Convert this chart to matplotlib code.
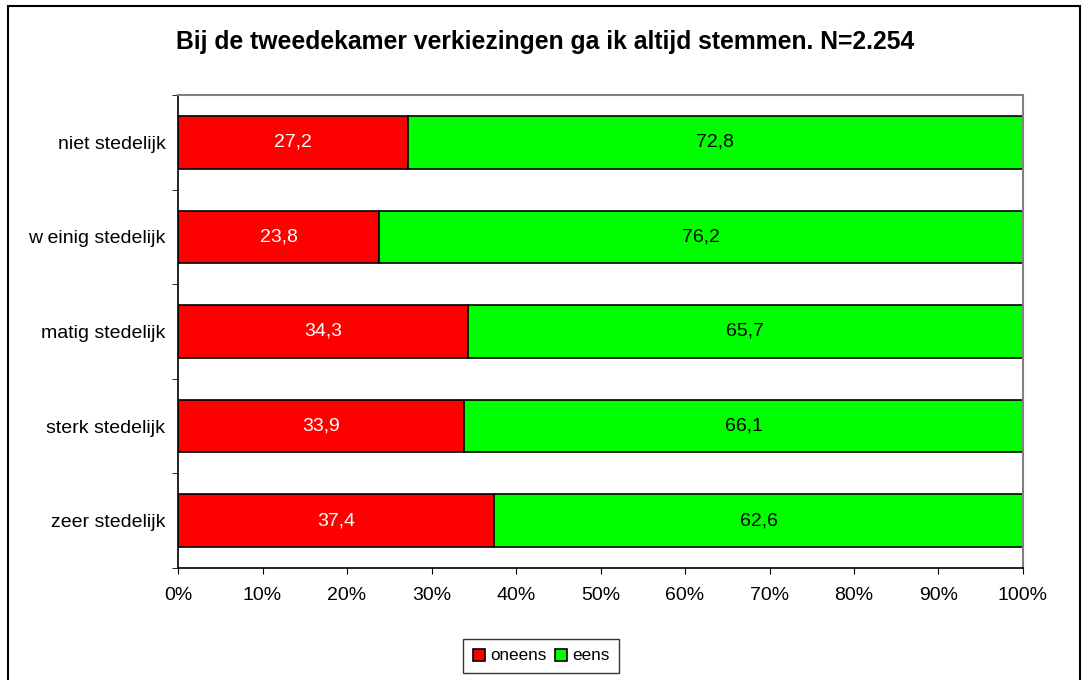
import matplotlib
matplotlib.use("Agg")
import matplotlib.pyplot as plt
from matplotlib.patches import Rectangle
from matplotlib.ticker import FixedLocator

plt.rcParams['font.family'] = ['Liberation Sans', 'DejaVu Sans']

categories = ["zeer stedelijk", "sterk stedelijk", "matig stedelijk", "w einig stedelijk", "niet stedelijk"]
oneens = [37.4, 33.9, 34.3, 23.8, 27.2]
eens = [62.6, 66.1, 65.7, 76.2, 72.8]
series_names = ["oneens", "eens"]
xtick_labels = ["0%", "10%", "20%", "30%", "40%", "50%", "60%", "70%", "80%", "90%", "100%"]
title = "Bij de tweedekamer verkiezingen ga ik altijd stemmen. N=2.254"

W, H = 1083, 680
fs = 14
fig = plt.figure(figsize=(W/100, H/100), dpi=100)
ax = fig.add_axes([178/W, 1-568/H, (1023-178)/W, (568-95)/H])

y = list(range(len(categories)))
h = 0.555
b1 = ax.barh(y, oneens, height=h, color="#ff0000", edgecolor="black", linewidth=1.2, label=series_names[0])
b2 = ax.barh(y, eens, left=oneens, height=h, color="#00ff00", edgecolor="black", linewidth=1.2, label=series_names[1])

for i in range(len(categories)):
    ax.text(oneens[i]/2, y[i], f"{oneens[i]:.1f}".replace(".", ","), ha="center", va="center", color="white", fontsize=fs)
    ax.text(oneens[i] + eens[i]/2, y[i], f"{eens[i]:.1f}".replace(".", ","), ha="center", va="center", color="black", fontsize=fs)

ax.set_xlim(0, 100)
ax.set_ylim(-0.5, len(categories)-0.5)
ax.set_xticks([i*10 for i in range(11)])
ax.set_xticklabels(xtick_labels, fontsize=fs)
ax.set_yticks(y)
ax.set_yticklabels(categories, fontsize=fs)
ax.tick_params(axis="y", which="major", length=0, pad=9)
ax.yaxis.set_minor_locator(FixedLocator([i + 0.5 for i in range(-1, len(categories))]))
ax.tick_params(axis="y", which="minor", length=4, direction="out", color="black")
ax.tick_params(axis="x", length=4, direction="out", pad=10, color="black")

for s in ["top", "right"]:
    ax.spines[s].set_color("#808080")
    ax.spines[s].set_linewidth(1.5)
for s in ["left", "bottom"]:
    ax.spines[s].set_color("black")
    ax.spines[s].set_linewidth(1.2)

fig.text(545/W, 1-42/H, title, ha="center", va="center", fontsize=17.8, fontweight="bold")

leg = fig.legend(handles=[b1, b2], labels=series_names, loc="center", bbox_to_anchor=(541/W, 1-656/H),
                 ncol=2, frameon=True, fancybox=False, edgecolor="black", fontsize=12.3,
                 handlelength=0.7, handleheight=0.7, handletextpad=0.3, columnspacing=0.5, borderpad=0.55,
                 borderaxespad=0)
leg.get_frame().set_linewidth(1.0)

fig.patches.append(Rectangle((8/W, -0.01), (1080-8)/W, 1-6/H+0.01, transform=fig.transFigure,
                             fill=False, edgecolor="black", linewidth=1.5))

fig.savefig("out.png", dpi=100)
